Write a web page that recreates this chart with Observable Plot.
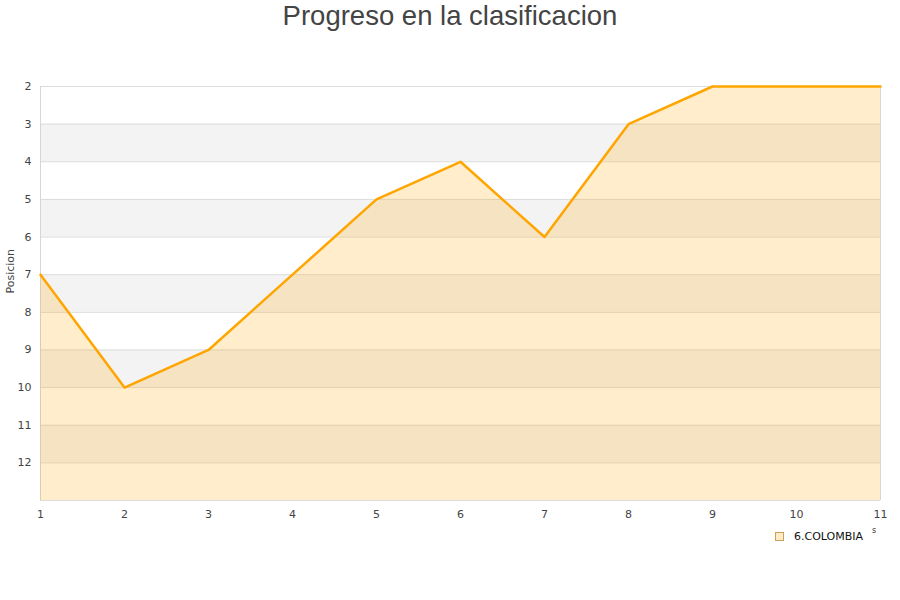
<!DOCTYPE html>
<html>
<head>
<meta charset="utf-8">
<script src="https://cdn.jsdelivr.net/npm/d3@7"></script>
<script src="https://cdn.jsdelivr.net/npm/@observablehq/plot@0.6"></script>
<style>
  html, body { margin: 0; padding: 0; background: #fff; }
  #wrap { position: relative; width: 900px; height: 600px; overflow: hidden; }
  #title { height: 40px; text-align: center; font-family: "Liberation Sans", Arial, sans-serif; font-size: 27.5px; color: #444; line-height: 31px; }
  #legend { position: absolute; left: 775px; top: 530px; font-family: "DejaVu Sans", sans-serif; font-size: 11px; color: #111; display: flex; align-items: center; }
  #legend .sw { width: 7px; height: 7px; border: 1px solid #c9a15a; background: #ffebc8; margin-right: 10px; }
  #stray { position: absolute; left: 872px; top: 526px; font-family: "DejaVu Sans", sans-serif; font-size: 8px; color: #333; }
</style>
</head>
<body>
<div id="wrap">
  <div id="title">Progreso en la clasificacion</div>
  <div id="chart"></div>
  <div id="legend"><div class="sw"></div><span>6.COLOMBIA</span></div>
  <div id="stray">s</div>
</div>
<script>
const jornadas = [1, 2, 3, 4, 5, 6, 7, 8, 9, 10, 11];
const posiciones = [7, 10, 9, 7, 5, 4, 6, 3, 2, 2, 2];
const yTicks = [2, 3, 4, 5, 6, 7, 8, 9, 10, 11, 12];
const bandStarts = [3, 5, 7, 9, 11];
const seriesName = "6.COLOMBIA";
const yBottom = 13;

const data = jornadas.map((j, i) => ({jornada: j, pos: posiciones[i], serie: seriesName}));
const bands = bandStarts.map(s => ({y1: s, y2: s + 1}));
const gridLines = yTicks.concat([yBottom]);

const chart = Plot.plot({
  width: 900,
  height: 520,
  marginTop: 46,
  marginBottom: 60,
  marginLeft: 40,
  marginRight: 20,
  style: {fontFamily: "DejaVu Sans, sans-serif", fontSize: "11px", color: "#444", background: "transparent"},
  x: {domain: [1, 11], ticks: jornadas, tickSize: 0, tickPadding: 10, tickFormat: d => String(d), label: null},
  y: {domain: [2, yBottom], reverse: true, ticks: yTicks, tickSize: 0, tickPadding: 9, tickFormat: d => String(d), label: null},
  marks: [
    Plot.rectY(bands, {x1: 1, x2: 11, y1: "y1", y2: "y2", fill: "#f3f3f3"}),
    Plot.ruleY(gridLines, {stroke: "#dcdcdc", strokeWidth: 1}),
    Plot.ruleX([1, 11], {stroke: "#d6d6d6", strokeWidth: 1}),
    Plot.areaY(data, {x: "jornada", y1: yBottom, y2: "pos", fill: "orange", fillOpacity: 0.2}),
    Plot.lineY(data, {x: "jornada", y: "pos", stroke: "#ffa500", strokeWidth: 2.5}),
    Plot.text(["Posicion"], {frameAnchor: "left", dx: -30, rotate: -90, fontSize: 11, fill: "#444"})
  ]
});
document.getElementById("chart").appendChild(chart);
</script>
</body>
</html>
